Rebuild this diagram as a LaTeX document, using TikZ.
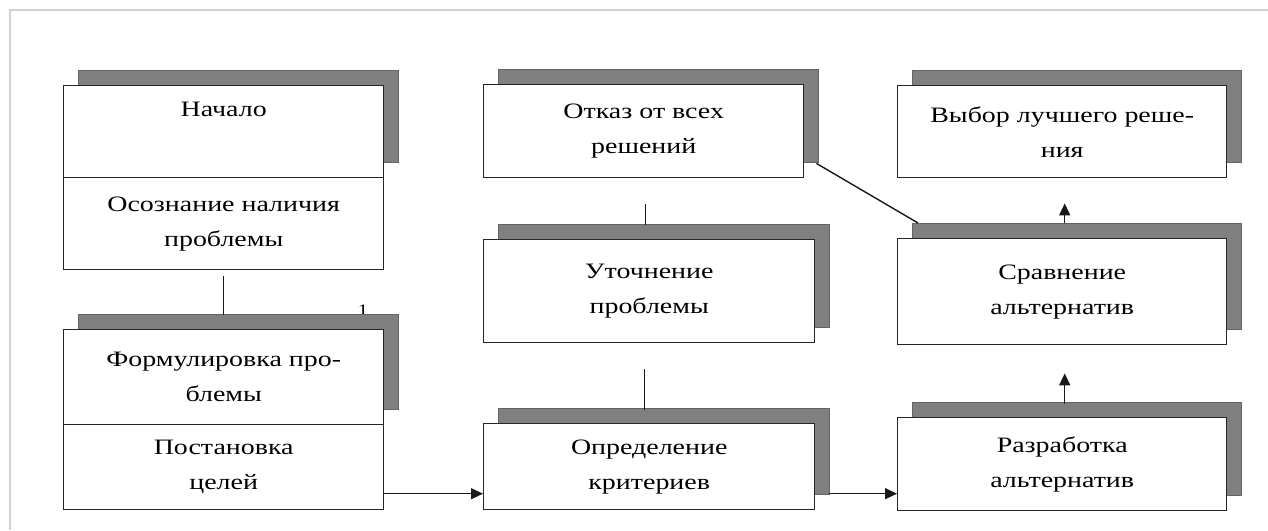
\documentclass[tikz,border=0pt]{standalone}
\usepackage{fontspec}
\setmainfont{Liberation Serif}[FakeStretch=1.27]
\usetikzlibrary{arrows.meta,shadows,calc}
\definecolor{shgray}{RGB}{128,128,128}
\definecolor{shedge}{RGB}{100,100,100}
\begin{document}
\begin{tikzpicture}[x=1pt,y=-1pt,
  stepbox/.style={draw=black!85, line width=1.4pt, fill=white, align=center, inner sep=0pt,
    anchor=north west, font=\fontsize{22}{35}\selectfont},
  shad/.style={general shadow={shadow xshift=15pt, shadow yshift=15pt, fill=shgray, draw=shedge, line width=0.8pt}},
  link/.style={line width=1.4pt, draw=black!90},
  arr/.style={link, -{Triangle[length=12pt,width=11pt]}},
  frameline/.style={draw=black!18, line width=1.5pt}]
\useasboundingbox (0,0) rectangle (1268,530);
\fill[white] (0,0) rectangle (1268,530);
\draw[frameline] (10,530) -- (10,10) -- (1268,10);

% stray mark
\node[font=\fontsize{16}{16}\selectfont, inner sep=0pt] (one) at (363,310) {1};

% left column
\node[stepbox, shad, minimum width=320pt, minimum height=92pt] (nach) at (63,85) {Начало\\\strut};
\node[stepbox, minimum width=320pt, minimum height=92pt] (osozn) at (63,177) {Осознание наличия\\проблемы};
\node[stepbox, shad, minimum width=320pt, minimum height=95pt] (form) at (63,329) {Формулировка про-\\блемы};
\node[stepbox, minimum width=320pt, minimum height=85pt] (postan) at (63,424) {Постановка\\целей};

% middle column
\node[stepbox, shad, minimum width=320pt, minimum height=93pt] (otkaz) at (483,84) {Отказ от всех\\решений};
\node[stepbox, shad, minimum width=331pt, minimum height=103pt] (utoch) at (483,239) {Уточнение\\проблемы};
\node[stepbox, shad, minimum width=331pt, minimum height=86pt] (opred) at (483,423) {Определение\\критериев};

% right column
\node[stepbox, shad, minimum width=329pt, minimum height=92pt] (vybor) at (897,85) {Выбор лучшего реше-\\ния};
\node[stepbox, shad, minimum width=329pt, minimum height=106pt] (sravn) at (897,238) {Сравнение\\альтернатив};
\node[stepbox, shad, minimum width=329pt, minimum height=93pt] (razrab) at (897,417) {Разработка\\альтернатив};

% connectors
\draw[link] ($(osozn.south)+(0,6)$) -- ($(form.north)+(0,-14)$);
\draw[link] ($(otkaz.south)+(2,26)$) -- ($(utoch.north)+(-3.5,-14)$);
\draw[link] ($(utoch.south)+(-4.5,26)$) -- ($(opred.north)+(-4.5,-13)$);
\draw[link] ($(otkaz.south east)+(12,-15)$) -- ($(sravn.north west)+(21,-15)$);
\draw[arr] ($(postan.east)+(0,26.5)$) -- ($(opred.west)+(0,27)$);
\draw[arr] ($(opred.east)+(14,27)$) -- ($(razrab.west)+(0,29.5)$);
\draw[arr] ($(razrab.north)+(2.5,-13)$) -- ($(sravn.south)+(2.5,28)$);
\draw[arr] ($(sravn.north)+(2.5,-15)$) -- ($(vybor.south)+(2.5,25)$);
\end{tikzpicture}
\end{document}
